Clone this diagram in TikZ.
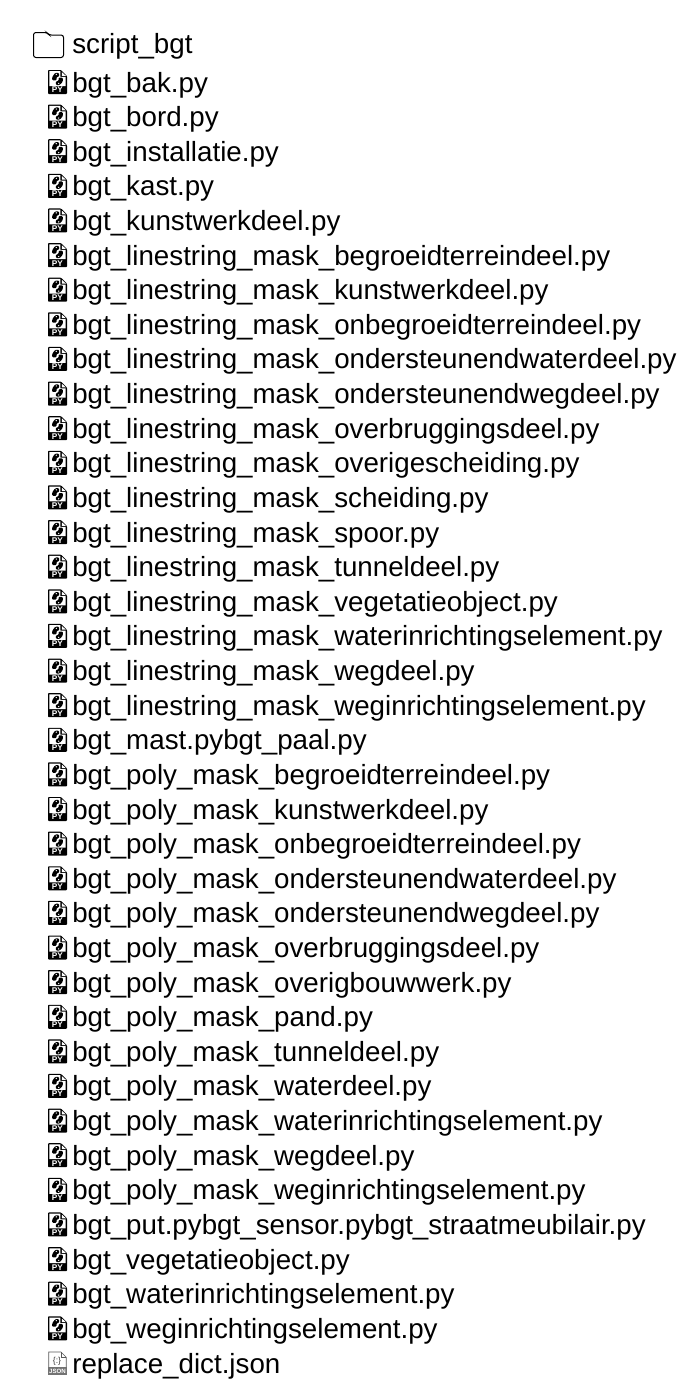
\documentclass[tikz,border=0pt]{standalone}
\usepackage{fontspec}
\setmainfont{Liberation Sans}
\newcommand{\pyicon}{%
  \begin{scope}[shift={(\ix,\iy)}]
    \fill[black,rounded corners=0.6] (-9.5,-12) -- (3.5,-12) -- (9.5,-6) -- (9.5,12) -- (-9.5,12) -- cycle;
    \fill[white] (-8.2,-10.8) -- (2.8,-10.8) -- (2.8,-5.2) -- (8.2,-5.2) -- (8.2,4) -- (-8.2,4) -- cycle;
    \fill[white] (4.4,-9.8) -- (8.4,-6.2) -- (4.4,-6.2) -- cycle;
    \fill[black,rounded corners=0.8] (-5.4,-1.6) -- (-5.4,-4.8) -- (-2.4,-9.2) -- (1.6,-9.2) -- (1.6,-5.2) -- (-1,-5.2) -- (-1,-1.6) -- cycle;
    \fill[black,rounded corners=0.8] (5.4,-4.4) -- (5.4,-0.6) -- (2.4,3) -- (-1.6,3) -- (-1.6,-0.8) -- (1,-0.8) -- (1,-4.4) -- cycle;
    \fill[white] (-1.2,-7.6) circle (0.7);
    \fill[white] (1.2,1.4) circle (0.7);
    \node[font=\bfseries\fontsize{6.2}{7}\selectfont,text=white,inner sep=0pt,anchor=center] at (0,8.1) {PY};
  \end{scope}}
\newcommand{\jsonicon}{%
  \begin{scope}[shift={(\ix,\iy)},gray!70!black]
    \draw[line width=0.5pt] (-8.8,11) -- (-8.8,-11) -- (3.5,-11) -- (8.8,-5.7) -- (8.8,11) -- cycle;
    \draw[line width=0.5pt] (3.5,-11) -- (3.5,-5.7) -- (8.8,-5.7);
    \node[font=\fontsize{6.5}{7}\selectfont,text=black!75,inner sep=0pt] at (-0.5,-1.5) {\{:\}};
    \fill[black!55] (-9.5,4.2) rectangle (9.5,11.5);
    \node[font=\bfseries\fontsize{4.6}{5}\selectfont,text=white,inner sep=0pt] at (0,7.9) {JSON};
  \end{scope}}
\begin{document}
\begin{tikzpicture}[x=0.75pt,y=-0.75pt,
  rowtext/.style={anchor=base west,inner sep=0pt,font=\fontsize{20.8}{24}\selectfont,text=black}]
\useasboundingbox[fill=white] (0,0) rectangle (700,1400);
\draw[black,line width=0.75pt,rounded corners=1.8] (33.5,57.5) -- (33.5,32.5) -- (47,32.5) -- (49,35) -- (63.5,35) -- (63.5,57.5) -- cycle;
\node[rowtext] (root) at (72,53) {script\_bgt};
\foreach \i/\t in {
0/bgt\_bak.py,
1/bgt\_bord.py,
2/bgt\_installatie.py,
3/bgt\_kast.py,
4/bgt\_kunstwerkdeel.py,
5/bgt\_linestring\_mask\_begroeidterreindeel.py,
6/bgt\_linestring\_mask\_kunstwerkdeel.py,
7/bgt\_linestring\_mask\_onbegroeidterreindeel.py,
8/bgt\_linestring\_mask\_ondersteunendwaterdeel.py,
9/bgt\_linestring\_mask\_ondersteunendwegdeel.py,
10/bgt\_linestring\_mask\_overbruggingsdeel.py,
11/bgt\_linestring\_mask\_overigescheiding.py,
12/bgt\_linestring\_mask\_scheiding.py,
13/bgt\_linestring\_mask\_spoor.py,
14/bgt\_linestring\_mask\_tunneldeel.py,
15/bgt\_linestring\_mask\_vegetatieobject.py,
16/bgt\_linestring\_mask\_waterinrichtingselement.py,
17/bgt\_linestring\_mask\_wegdeel.py,
18/bgt\_linestring\_mask\_weginrichtingselement.py,
19/bgt\_mast.pybgt\_paal.py,
20/bgt\_poly\_mask\_begroeidterreindeel.py,
21/bgt\_poly\_mask\_kunstwerkdeel.py,
22/bgt\_poly\_mask\_onbegroeidterreindeel.py,
23/bgt\_poly\_mask\_ondersteunendwaterdeel.py,
24/bgt\_poly\_mask\_ondersteunendwegdeel.py,
25/bgt\_poly\_mask\_overbruggingsdeel.py,
26/bgt\_poly\_mask\_overigbouwwerk.py,
27/bgt\_poly\_mask\_pand.py,
28/bgt\_poly\_mask\_tunneldeel.py,
29/bgt\_poly\_mask\_waterdeel.py,
30/bgt\_poly\_mask\_waterinrichtingselement.py,
31/bgt\_poly\_mask\_wegdeel.py,
32/bgt\_poly\_mask\_weginrichtingselement.py,
33/bgt\_put.pybgt\_sensor.pybgt\_straatmeubilair.py,
34/bgt\_vegetatieobject.py,
35/bgt\_waterinrichtingselement.py,
36/bgt\_weginrichtingselement.py}{
  \pgfmathsetmacro{\iy}{82+34.62*\i}
  \def\ix{57.5}
  \pyicon
  \node[rowtext] (row\i) at (72,\iy+10) {\t};
}
\def\ix{57.5}\def\iy{1363}
\jsonicon
\node[rowtext] (row37) at (72,1373) {replace\_dict.json};
\end{tikzpicture}
\end{document}
